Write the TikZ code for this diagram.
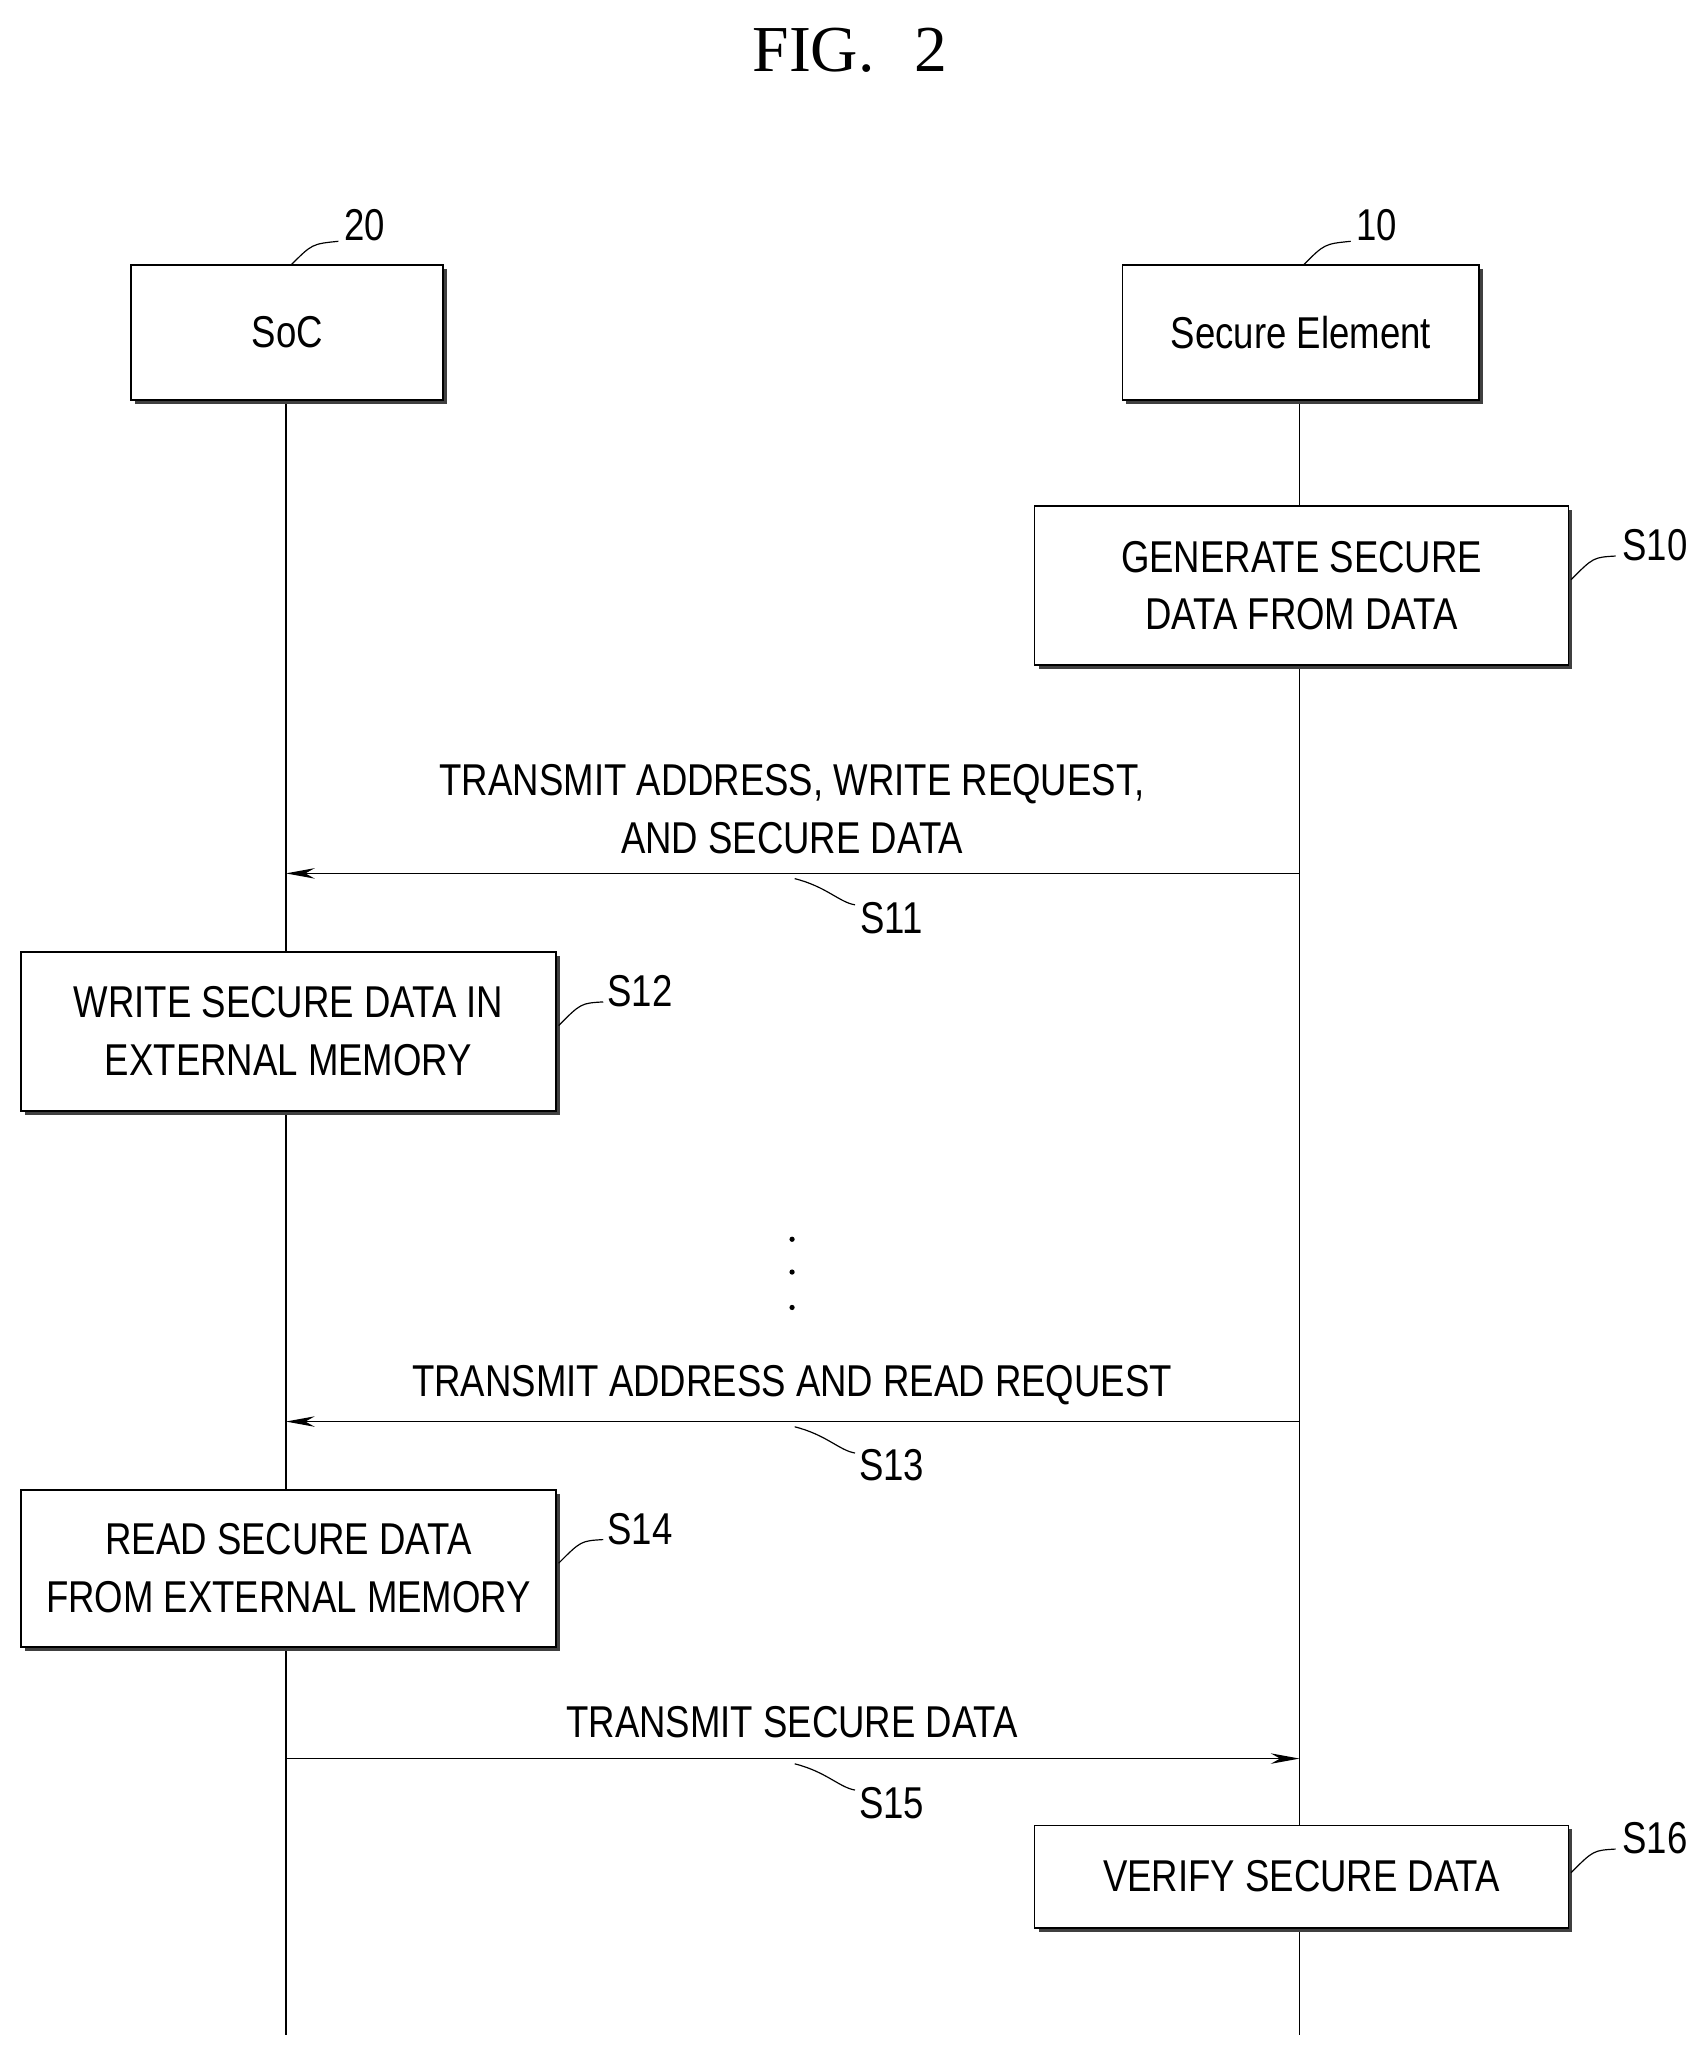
\documentclass[tikz,border=0pt]{standalone}
\usepackage{fontspec}
\setmainfont{Liberation Sans}[FakeStretch=0.82]
\newfontfamily\titlefont{Liberation Serif}
\usetikzlibrary{arrows.meta}
\begin{document}
\begin{tikzpicture}[x=1pt,y=-1pt,
  box/.style={draw,line width=1.2pt,fill=white,inner sep=0pt},
  shadowline/.style={line width=3pt,draw=black!75},
  life/.style={line width=1pt},
  msg/.style={line width=1pt,-{Stealth[length=22pt,width=8pt]}},
  txt/.style={font=\fontsize{34}{44}\selectfont,align=center},
  lead/.style={line width=0.9pt}]
\useasboundingbox (0,0) rectangle (1300,1564);
\node (title) at (648,38) {\titlefont\fontsize{50}{50}\selectfont FIG.\hspace{0.6em}2};
% lifelines
\coordinate (Lt) at (218,305); \coordinate (Lb) at (218,1552);
\coordinate (Rt) at (991,305); \coordinate (Rb) at (991,1552);
\draw[life] (Lt) -- (Lb);
\draw[life] (Rt) -- (Rb);
% boxes macro-like
\newcommand{\mybox}[6]{% name x1 y1 x2 y2 text
  \draw[shadowline] (#4+1.5,#3+3) -- (#4+1.5,#5+1.5) -- (#2+3,#5+1.5);
  \draw[box] (#2,#3) rectangle (#4,#5);
  \node[txt] (#1) at ({(#2+#4)/2},{(#3+#5)/2}) {#6};}
\mybox{soc}{100}{202}{338}{305}{SoC}
\mybox{se}{856}{202}{1128}{305}{Secure Element}
\mybox{s10}{789}{386}{1196}{507}{GENERATE SECURE\\DATA FROM DATA}
\mybox{s12}{16}{726}{424}{847}{WRITE SECURE DATA IN\\EXTERNAL MEMORY}
\mybox{s14}{16}{1136}{424}{1256}{READ SECURE DATA\\FROM EXTERNAL MEMORY}
\mybox{s16}{789}{1392}{1196}{1470}{VERIFY SECURE DATA}
% reference labels
\node[txt] (l20) at (278,172) {20};
\node[txt] (l10) at (1050,172) {10};
\draw[lead] (222,202) .. controls (238,186) .. (258,184);
\draw[lead] (994,202) .. controls (1010,186) .. (1030,184);
\node[txt] (ls10) at (1262,416) {S10};
\draw[lead] (1198,442) .. controls (1215,425) .. (1232,424);
\node[txt] (ls12) at (488,756) {S12};
\draw[lead] (426,782) .. controls (443,765) .. (460,764);
\node[txt] (ls14) at (488,1166) {S14};
\draw[lead] (426,1192) .. controls (443,1175) .. (460,1174);
\node[txt] (ls16) at (1262,1402) {S16};
\draw[lead] (1198,1428) .. controls (1215,1411) .. (1232,1410);
% messages
\coordinate (a11r) at (991,666); \coordinate (a11l) at (218,666);
\draw[msg] (a11r) -- (a11l);
\node[txt] (t11) at (604,617) {TRANSMIT ADDRESS, WRITE REQUEST,\\AND SECURE DATA};
\node[txt] (ls11) at (680,700) {S11};
\draw[lead] (606,670) .. controls (630,676) and (640,688) .. (652,690);
\coordinate (a13r) at (991,1084); \coordinate (a13l) at (218,1084);
\draw[msg] (a13r) -- (a13l);
\node[txt] (t13) at (604,1056) {TRANSMIT ADDRESS AND READ REQUEST};
\node[txt] (ls13) at (680,1117) {S13};
\draw[lead] (606,1088) .. controls (630,1094) and (640,1106) .. (652,1108);
\coordinate (a15l) at (218,1341); \coordinate (a15r) at (991,1341);
\draw[msg] (a15l) -- (a15r);
\node[txt] (t15) at (604,1313) {TRANSMIT SECURE DATA};
\node[txt] (ls15) at (680,1375) {S15};
\draw[lead] (606,1345) .. controls (630,1351) and (640,1363) .. (652,1365);
% dots
\foreach \yy in {945,970,997} \fill (604,\yy) circle (2pt);
\end{tikzpicture}
\end{document}
